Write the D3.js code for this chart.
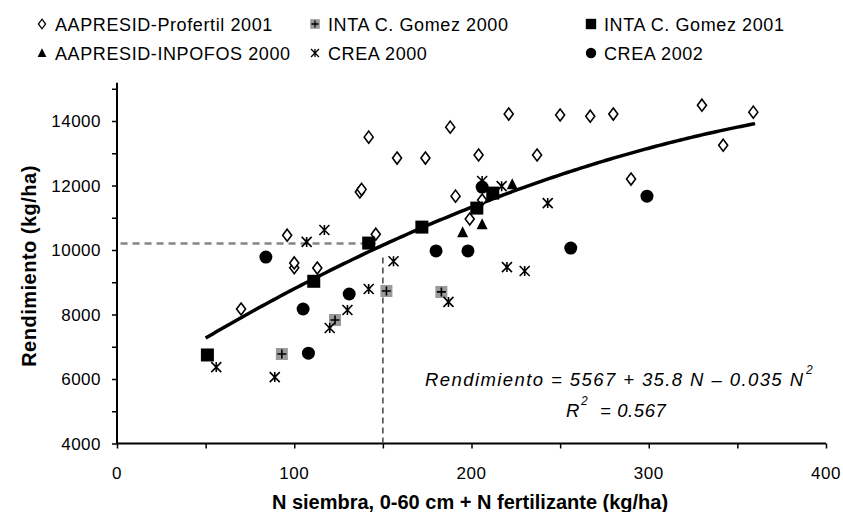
<html>
  <head>
    <script src="https://d3js.org/d3.v7.min.js"></script>
    <style>
      body { margin: 0; background: #fff; }
      text { font-family: "Liberation Sans", Arial, sans-serif; fill: #000; }
    </style>
  </head>
  <body>
    <div id="vis"></div>
    <script>
      // Series data: [N (kg/ha), rendimiento (kg/ha)]
      var profertil2001 = [
        [70, 8170], [96, 10460], [100, 9450], [100, 9600], [113, 9440],
        [137, 11800], [138, 11880], [142, 13500], [146, 10490], [158, 12850],
        [174, 12850], [188, 13810], [191, 11670], [199, 10960], [206, 11550],
        [204, 12945], [221, 14215], [237, 12945], [250, 14185], [267, 14150],
        [280, 14215], [290, 12200], [330, 14490], [342, 13250], [359, 14275]
      ];
      var intaGomez2000 = [[93, 6775], [123, 7830], [152, 8730], [183, 8700]];
      var intaGomez2001 = [
        [51, 6745], [111, 9030], [142, 10215], [172, 10710], [203, 11300], [212, 11765]
      ];
      var inpofos2000 = [[195, 10550], [206, 10800], [223, 12040]];
      var crea2000 = [
        [56, 6370], [89, 6060], [107, 10250], [117, 10620], [120, 7580],
        [130, 8140], [142, 8790], [156, 9650], [187, 8390], [206, 12140],
        [217, 11980], [220, 9470], [230, 9350], [243, 11455]
      ];
      var crea2002 = [
        [84, 9780], [105, 8170], [108, 6800], [131, 8635], [180, 9970],
        [198, 9970], [206, 11950], [256, 10060], [299, 11670]
      ];

      // Fitted curve: Rendimiento = a + b N + c N^2
      var fitCoef = [5567, 35.8, -0.035];
      var fitRange = [50, 360];
      // Reference lines (N = 150 kg/ha)
      var refN = 150;
      var refYield = 10200;
      var refVerticalTop = 9770;

      var xTicks = [0, 100, 200, 300, 400];
      var yTicks = [4000, 6000, 8000, 10000, 12000, 14000];

      var legendRows = [
        [
          { name: "AAPRESID-Profertil 2001", shape: "diamond" },
          { name: "INTA C. Gomez 2000", shape: "plus" },
          { name: "INTA C. Gomez 2001", shape: "square" }
        ],
        [
          { name: "AAPRESID-INPOFOS 2000", shape: "triangle" },
          { name: "CREA 2000", shape: "star" },
          { name: "CREA 2002", shape: "circle" }
        ]
      ];

      var width = 843, height = 512;
      var svg = d3.select("#vis").append("svg")
        .attr("width", width)
        .attr("height", height);

      var x = d3.scaleLinear().domain([0, 400]).range([117, 826]);
      var y = d3.scaleLinear().domain([4000, 15000]).range([443.5, 88.75]);

      // Axes (ticks from d3, domain lines drawn by hand)
      var xAxis = svg.append("g")
        .attr("transform", "translate(0," + y(4000) + ")")
        .call(d3.axisBottom(x).tickValues(d3.range(0, 401, 50)).tickSize(5).tickFormat(""));
      var yAxis = svg.append("g")
        .attr("transform", "translate(" + x(0) + ",0)")
        .call(d3.axisLeft(y).tickValues(d3.range(4000, 15001, 1000)).tickSize(5).tickFormat(""));
      [xAxis, yAxis].forEach(function (g) {
        g.select(".domain").remove();
        g.selectAll(".tick line").attr("stroke", "#000").attr("stroke-width", 1.5);
      });
      svg.append("line")
        .attr("x1", x(0)).attr("x2", x(400))
        .attr("y1", y(4000)).attr("y2", y(4000))
        .attr("stroke", "#000").attr("stroke-width", 2);
      svg.append("line")
        .attr("x1", x(0)).attr("x2", x(0))
        .attr("y1", y(4000)).attr("y2", y(15000) - 6)
        .attr("stroke", "#000").attr("stroke-width", 2);

      // Tick labels
      svg.selectAll(".xlab").data(xTicks).enter().append("text")
        .attr("x", function (d) { return x(d); })
        .attr("y", 479)
        .attr("text-anchor", "middle")
        .style("font-size", "17px")
        .style("letter-spacing", "0.5px")
        .text(function (d) { return d; });
      svg.selectAll(".ylab").data(yTicks).enter().append("text")
        .attr("x", 101)
        .attr("y", function (d) { return y(d) + 6; })
        .attr("text-anchor", "end")
        .style("font-size", "17px")
        .style("letter-spacing", "0.5px")
        .text(function (d) { return d; });

      // Axis titles
      svg.append("text")
        .attr("x", 470).attr("y", 509)
        .attr("text-anchor", "middle")
        .style("font-size", "20px").style("font-weight", "bold")
        .text("N siembra, 0-60 cm + N fertilizante (kg/ha)");
      svg.append("text")
        .attr("transform", "translate(36,266) rotate(-90)")
        .attr("text-anchor", "middle")
        .style("font-size", "20px").style("font-weight", "bold")
        .style("letter-spacing", "0.5px")
        .text("Rendimiento (kg/ha)");

      // Dashed reference lines
      svg.append("line")
        .attr("x1", x(2)).attr("x2", x(refN - 4))
        .attr("y1", y(refYield)).attr("y2", y(refYield))
        .attr("stroke", "#858585").attr("stroke-width", 2.5)
        .attr("stroke-dasharray", "7,5");
      svg.append("line")
        .attr("x1", x(refN)).attr("x2", x(refN))
        .attr("y1", y(refVerticalTop)).attr("y2", y(4000))
        .attr("stroke", "#444").attr("stroke-width", 1.5)
        .attr("stroke-dasharray", "6,4");

      // Fitted curve
      var curvePts = d3.range(fitRange[0], fitRange[1] + 0.1, 2).map(function (n) {
        return [n, fitCoef[0] + fitCoef[1] * n + fitCoef[2] * n * n];
      });
      svg.append("path")
        .datum(curvePts)
        .attr("fill", "none")
        .attr("stroke", "#000")
        .attr("stroke-width", 3.5)
        .attr("d", d3.line()
          .x(function (d) { return x(d[0]); })
          .y(function (d) { return y(d[1]); }));

      // Marker drawing
      function drawMarker(g, shape) {
        if (shape === "diamond") {
          g.append("path").attr("d", "M0,-6L4.5,0L0,6L-4.5,0Z")
            .attr("fill", "#fff").attr("stroke", "#000").attr("stroke-width", 1.6);
        } else if (shape === "plus") {
          g.append("rect").attr("x", -6).attr("y", -6).attr("width", 12).attr("height", 12)
            .attr("fill", "#9a9a9a");
          g.append("path").attr("d", "M-4.5,0H4.5M0,-4.5V4.5")
            .attr("stroke", "#000").attr("stroke-width", 1.6);
        } else if (shape === "square") {
          g.append("rect").attr("x", -6.5).attr("y", -6.5).attr("width", 13).attr("height", 13)
            .attr("fill", "#000");
        } else if (shape === "triangle") {
          g.append("path").attr("d", "M0,-6L5.5,5L-5.5,5Z").attr("fill", "#000");
        } else if (shape === "star") {
          g.append("path").attr("d", "M-5,-5L5,5M5,-5L-5,5M0,-5V5M-2,-1H2")
            .attr("stroke", "#000").attr("stroke-width", 1.6).attr("fill", "none");
        } else if (shape === "circle") {
          g.append("circle").attr("r", 6.5).attr("fill", "#000");
        }
      }

      var series = [
        { data: profertil2001, shape: "diamond" },
        { data: intaGomez2000, shape: "plus" },
        { data: crea2000, shape: "star" },
        { data: crea2002, shape: "circle" },
        { data: inpofos2000, shape: "triangle" },
        { data: intaGomez2001, shape: "square" }
      ];
      series.forEach(function (s) {
        svg.append("g").selectAll("g").data(s.data).enter().append("g")
          .attr("transform", function (d) { return "translate(" + x(d[0]) + "," + y(d[1]) + ")"; })
          .each(function () { drawMarker(d3.select(this), s.shape); });
      });

      // Equation
      svg.append("text")
        .attr("x", 425).attr("y", 386)
        .attr("textLength", 378)
        .attr("lengthAdjust", "spacing")
        .style("font-size", "18.5px").style("font-style", "italic")
        .text("Rendimiento = 5567 + 35.8 N \u2013 0.035 N");
      svg.append("text").attr("x", 806).attr("y", 374)
        .style("font-size", "12px").style("font-style", "italic").text("2");
      svg.append("text").attr("x", 566).attr("y", 417)
        .style("font-size", "18.5px").style("font-style", "italic").text("R");
      svg.append("text").attr("x", 581).attr("y", 405)
        .style("font-size", "12px").style("font-style", "italic").text("2");
      svg.append("text").attr("x", 600).attr("y", 417)
        .style("font-size", "18.5px").style("font-style", "italic")
        .style("letter-spacing", "0.6px")
        .text("= 0.567");

      // Legend
      var legX = [42, 315, 591];
      var legY = [24, 53];
      legendRows.forEach(function (row, ri) {
        row.forEach(function (item, ci) {
          var g = svg.append("g")
            .attr("transform", "translate(" + legX[ci] + "," + legY[ri] + ")");
          var m = g.append("g").attr("transform", "scale(0.8)");
          drawMarker(m, item.shape);
          g.append("text")
            .attr("x", 13).attr("y", 6.5)
            .style("font-size", "18px")
            .style("letter-spacing", "0.6px")
            .text(item.name);
        });
      });
    </script>
  </body>
</html>
